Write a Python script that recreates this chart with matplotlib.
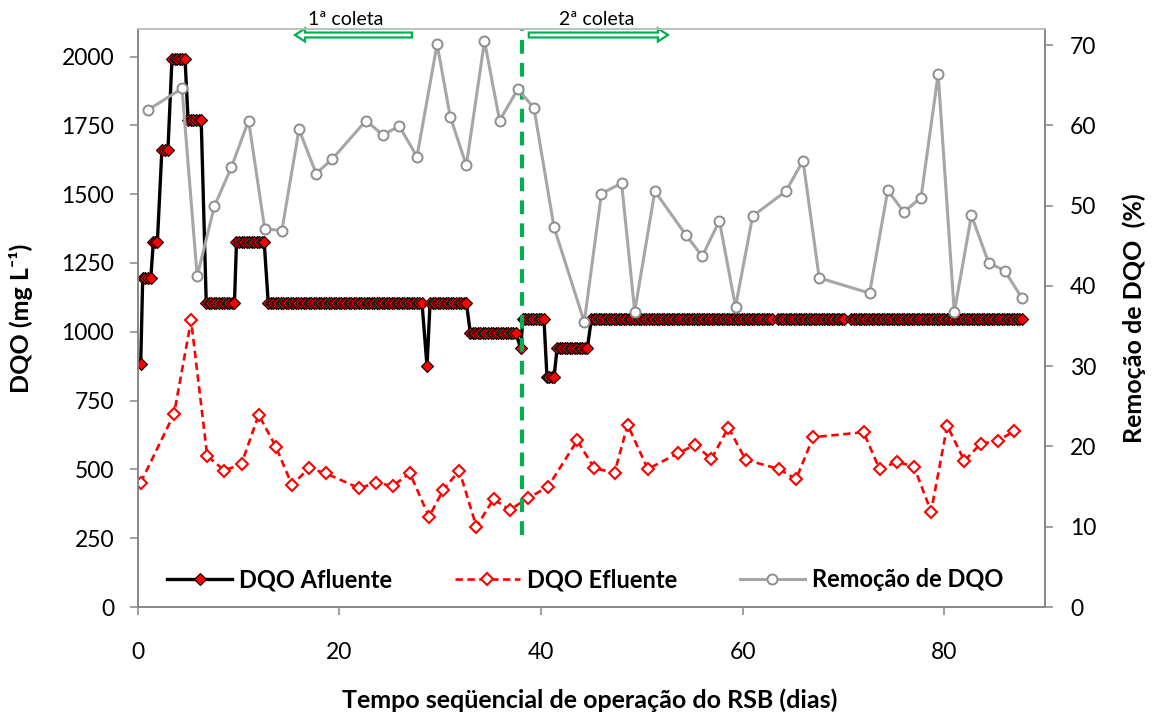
import numpy as np
import matplotlib
matplotlib.use("Agg")
import matplotlib.pyplot as plt
from matplotlib.patches import FancyArrow
import matplotlib.transforms as mtransforms

plt.rcParams['font.family'] = ['Lato', 'DejaVu Sans']

# ---------------- data ----------------
# Influent COD: constant-level runs (start day, end day, value), sampled every cycle
afl_start = [0.3, 0.5, 1.55, 2.4, 3.4, 5.0, 6.8, 9.8, 12.95, 28.7, 29.0, 33.0,
             38.0, 38.2, 40.6, 41.6, 45.0, 63.55, 70.8]
afl_end = [0.3, 1.3, 1.95, 3.0, 4.7, 6.3, 9.6, 12.55, 28.2, 28.7, 32.6, 37.5,
           38.0, 40.3, 41.3, 44.6, 62.9, 70.1, 87.7]
afl_vals = [883, 1195, 1325, 1660, 1990, 1770, 1105, 1325, 1105, 875, 1105, 995,
            940, 1045, 835, 940, 1045, 1045, 1045]
cycles_per_day = 4

eff_days = [0.3, 3.6, 5.3, 6.9, 8.6, 10.3, 12.0, 13.7, 15.3, 17.0, 18.65, 22.0,
            23.6, 25.3, 27.0, 28.9, 30.3, 31.9, 33.6, 35.3, 36.9, 38.7, 40.7,
            43.6, 45.3, 47.3, 48.6, 50.6, 53.6, 55.3, 56.9, 58.6, 60.3, 63.65,
            65.3, 67.0, 72.0, 73.6, 75.3, 77.0, 78.7, 80.3, 82.0, 83.6, 85.3, 86.9]
eff_vals = [452, 701, 1041, 549, 496, 520, 698, 583, 444, 504, 486, 431,
            452, 440, 486, 328, 425, 496, 292, 392, 353, 395, 437,
            605, 504, 488, 662, 501, 559, 589, 538, 652, 535, 501,
            464, 617, 635, 500, 528, 510, 347, 659, 531, 593, 604, 638]

rem_days = [1.0, 4.4, 5.9, 7.6, 9.3, 11.0, 12.6, 14.3, 16.0, 17.7, 19.3, 22.65,
            24.3, 25.95, 27.7, 29.7, 31.0, 32.6, 34.4, 35.9, 37.7, 39.3, 41.3,
            44.3, 46.0, 48.0, 49.3, 51.3, 54.4, 56.0, 57.7, 59.3, 61.0, 64.3,
            66.0, 67.6, 72.6, 74.4, 76.0, 77.7, 79.4, 81.0, 82.7, 84.4, 86.0, 87.7]
rem_vals = [61.9, 64.6, 41.2, 49.9, 54.8, 60.6, 47.1, 46.9, 59.5, 54.0, 55.8, 60.6,
            58.8, 59.9, 56.1, 70.1, 61.1, 55.0, 70.5, 60.6, 64.5, 62.2, 47.3,
            35.5, 51.5, 52.8, 36.8, 51.8, 46.3, 43.7, 48.1, 37.4, 48.7, 51.8,
            55.6, 41.0, 39.1, 51.9, 49.2, 51.0, 66.4, 36.7, 48.8, 42.9, 41.9, 38.5]

x_ticks = [0, 20, 40, 60, 80]
y_left_ticks = [0, 250, 500, 750, 1000, 1250, 1500, 1750, 2000]
y_right_ticks = [0, 10, 20, 30, 40, 50, 60, 70]
split_day = 38.1
split_from = 262

# expand influent runs
afl_x, afl_y = [], []
for s, e, v in zip(afl_start, afl_end, afl_vals):
    n = max(1, int(round((e - s) * cycles_per_day)) + 1)
    xs = np.linspace(s, e, n)
    afl_x.extend(xs)
    afl_y.extend([v] * n)

# ---------------- figure ----------------
fig = plt.figure(figsize=(11.56, 7.16), dpi=100)
ax = fig.add_axes([0.1191, 0.1522, 0.7849, 0.8073])
ax2 = ax.twinx()

spine_c = '#868686'
green = '#00B050'

l1, = ax.plot(afl_x, afl_y, color='black', lw=2.4, marker='D', ms=6.2,
              mfc='#FF0000', mec='black', mew=0.8, zorder=3, label='DQO Afluente')
l2, = ax.plot(eff_days, eff_vals, color='#FF0000', lw=1.9, dashes=(2.8, 1.7),
              marker='D', ms=6, mfc='white', mec='#FF0000', mew=1.5, zorder=2,
              label='DQO Efluente')
ax.plot([split_day, split_day], [split_from, 2100], color=green, lw=3,
        dashes=(3.3, 2.2), zorder=4, clip_on=False)

l3, = ax2.plot(rem_days, rem_vals, color='#A6A6A6', lw=2.2, marker='o', ms=7.2,
               mfc='white', mec='#8E8E8E', mew=1.4, label='Remoção de DQO')

ax.set_xlim(0, 90)
ax.set_ylim(0, 2100)
ax2.set_ylim(0, 72)
ax.set_xticks(x_ticks)
ax.set_yticks(y_left_ticks)
ax2.set_yticks(y_right_ticks)

for a in (ax, ax2):
    for sp in a.spines.values():
        sp.set_color(spine_c)
        sp.set_linewidth(1.2)
    a.spines['top'].set_color('#BFBFBF')
    a.tick_params(direction='out', length=6, width=1.1, color=spine_c,
                  labelsize=16.5, labelcolor='black')
ax.tick_params(axis='y', pad=11)
ax.tick_params(axis='x', pad=19)
ax2.tick_params(axis='y', pad=12)

lab_kw = dict(fontsize=18, fontweight='bold')
ax.set_xlabel('Tempo seqüencial de operação do RSB (dias)', **lab_kw)
ax.set_ylabel('DQO (mg L⁻¹)', **lab_kw)
ax2.set_ylabel('Remoção de DQO  (%)', **lab_kw)
ax.xaxis.set_label_coords(0.4985, -0.14)
ax.yaxis.set_label_coords(-0.115, 0.5)
ax2.yaxis.set_label_coords(1.085, 0.5)

# collection arrows
trans = mtransforms.blended_transform_factory(ax.transData, ax.transAxes)
arrow_y = 0.9896
for x0, x1 in [(27.2, 15.6), (38.8, 52.6)]:
    arr = FancyArrow(x0, arrow_y, x1 - x0, 0, width=0.0085, head_width=0.0225,
                     head_length=1.0, length_includes_head=True,
                     transform=trans, facecolor='white', edgecolor=green,
                     lw=1.6, clip_on=False, zorder=5)
    ax.add_patch(arr)
ax.text(20.6, 1.0156, '1ª coleta', transform=trans, ha='center', va='center',
        fontsize=14, clip_on=False)
ax.text(45.5, 1.0156, '2ª coleta', transform=trans, ha='center', va='center',
        fontsize=14, clip_on=False)

ax2.legend(handles=[l1, l2, l3], loc='center', bbox_to_anchor=(0.493, 0.047),
           ncol=3, frameon=False, numpoints=1, handlelength=2.75,
           handletextpad=0.3, columnspacing=2.65, borderaxespad=0, borderpad=0,
           prop={'size': 17, 'weight': 'bold'})

fig.savefig('out.png', dpi=100)
